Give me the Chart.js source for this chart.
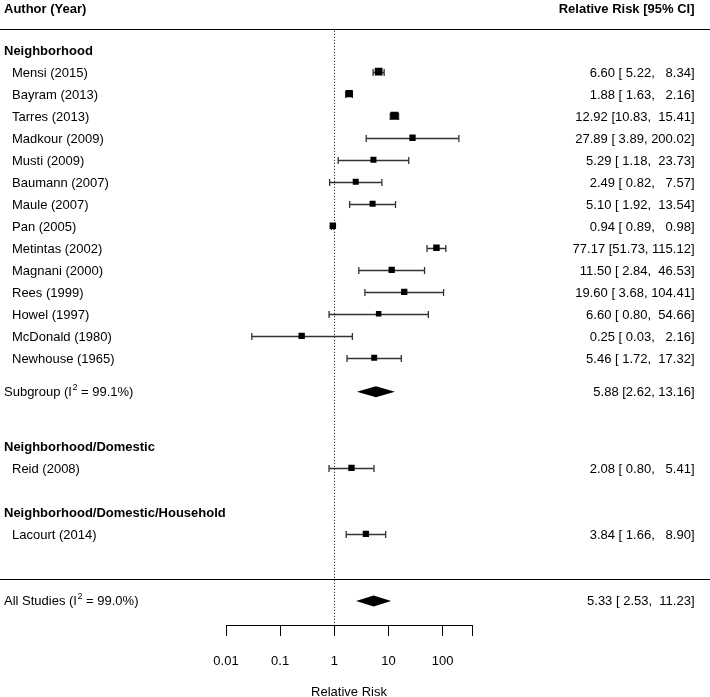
<!DOCTYPE html>
<html>
<head>
<meta charset="utf-8">
<title>Forest plot - Relative Risk</title>
<script src="https://cdn.jsdelivr.net/npm/chart.js@4.4.1/dist/chart.umd.min.js"></script>
<style>
  html, body { margin: 0; padding: 0; background: #fff; }
  canvas { display: block; }
</style>
</head>
<body>
<canvas id="forest" width="710" height="697"></canvas>
<script>
// study level data
const studyNames = [
  'Mensi (2015)', 'Bayram (2013)', 'Tarres (2013)', 'Madkour (2009)', 'Musti (2009)',
  'Baumann (2007)', 'Maule (2007)', 'Pan (2005)', 'Metintas (2002)', 'Magnani (2000)',
  'Rees (1999)', 'Howel (1997)', 'McDonald (1980)', 'Newhouse (1965)',
  'Reid (2008)', 'Lacourt (2014)'
];
const estimates = [6.60, 1.88, 12.92, 27.89, 5.29, 2.49, 5.10, 0.94, 77.17, 11.50, 19.60, 6.60, 0.25, 5.46, 2.08, 3.84];
const lower = [5.22, 1.63, 10.83, 3.89, 1.18, 0.82, 1.92, 0.89, 51.73, 2.84, 3.68, 0.80, 0.03, 1.72, 0.80, 1.66];
const upper = [8.34, 2.16, 15.41, 200.02, 23.73, 7.57, 13.54, 0.98, 115.12, 46.53, 104.41, 54.66, 2.16, 17.32, 5.41, 8.90];
const studyRows = [1, 2, 3, 4, 5, 6, 7, 8, 9, 10, 11, 12, 13, 14, 19, 22];

// subgroup headings
const groupNames = ['Neighborhood', 'Neighborhood/Domestic', 'Neighborhood/Domestic/Household'];
const groupRows = [0, 18, 21];

// pooled estimates
const summaryNames = ['Subgroup (I² = 99.1%)', 'All Studies (I² = 99.0%)'];
const summaryEst = [5.88, 5.33];
const summaryLower = [2.62, 2.53];
const summaryUpper = [13.16, 11.23];
const summaryRows = [15.5, 25];
const summaryPadded = [false, true];

// x axis
const tickValues = [0.01, 0.1, 1, 10, 100, 350];
const tickLabels = ['0.01', '0.1', '1', '10', '100', ''];

const FONT = '"Liberation Sans", Arial, Helvetica, sans-serif';
const headerRow = -1.9;
const topLineRow = -0.95;
const bottomLineRow = 24.05;
const textShift = 2; // canvas 'middle' sits a bit high for this font

// square side (px) per study
const boxSide = [7.7, 7.3, 8, 6.3, 6, 6, 6, 6.5, 6.5, 6.3, 6.3, 5.5, 6.3, 6, 6.3, 6.3];

function fmt(v, w) {
  return v.toFixed(2).padStart(w, ' ');
}
function ciText(est, lo, hi, padded) {
  if (!padded) return est.toFixed(2) + ' [' + lo.toFixed(2) + ', ' + hi.toFixed(2) + ']';
  return fmt(est, 5) + ' [' + fmt(lo, 5) + ', ' + fmt(hi, 6) + ']';
}

// draws text with a raised "2" where the label contains ²
function drawLabel(ctx, text, x, y, bold) {
  const base = (bold ? 'bold ' : '') + '13px ' + FONT;
  ctx.font = base;
  const idx = text.indexOf('²');
  if (idx < 0) { ctx.fillText(text, x, y); return; }
  const a = text.slice(0, idx), b = text.slice(idx + 1);
  ctx.fillText(a, x, y);
  let cx = x + ctx.measureText(a).width;
  ctx.font = '9px ' + FONT;
  ctx.fillText('2', cx + 0.5, y - 5);
  cx += ctx.measureText('2').width + 0.5;
  ctx.font = base;
  ctx.fillText(b, cx, y);
}

const forestPlugin = {
  id: 'forest',
  beforeDatasetsDraw(chart) {
    const { ctx, scales: { x, y } } = chart;
    ctx.save();

    // dotted reference line at RR = 1
    const x1 = Math.round(x.getPixelForValue(1)) + 0.5;
    ctx.strokeStyle = '#000';
    ctx.lineWidth = 1;
    ctx.setLineDash([1, 2]);
    ctx.beginPath();
    ctx.moveTo(x1, y.getPixelForValue(topLineRow) + 2);
    ctx.lineTo(x1, y.bottom);
    ctx.stroke();
    ctx.setLineDash([]);

    // confidence intervals
    ctx.strokeStyle = '#333';
    ctx.lineWidth = 1.3;
    studyRows.forEach((row, i) => {
      const py = Math.round(y.getPixelForValue(row)) + 0.5;
      const xl = x.getPixelForValue(lower[i]);
      const xh = x.getPixelForValue(upper[i]);
      ctx.beginPath();
      ctx.moveTo(xl, py); ctx.lineTo(xh, py);
      ctx.moveTo(xl, py - 3.5); ctx.lineTo(xl, py + 3.5);
      ctx.moveTo(xh, py - 3.5); ctx.lineTo(xh, py + 3.5);
      ctx.stroke();
    });

    // pooled diamonds
    ctx.fillStyle = '#000';
    summaryRows.forEach((row, i) => {
      const py = y.getPixelForValue(row) + 1;
      const xe = x.getPixelForValue(summaryEst[i]);
      ctx.beginPath();
      ctx.moveTo(x.getPixelForValue(summaryLower[i]), py);
      ctx.lineTo(xe, py - 5.5);
      ctx.lineTo(x.getPixelForValue(summaryUpper[i]), py);
      ctx.lineTo(xe, py + 5.5);
      ctx.closePath();
      ctx.fill();
    });
    ctx.restore();
  },
  afterDraw(chart) {
    const { ctx, width, scales: { y } } = chart;
    ctx.save();

    // separator lines
    ctx.strokeStyle = '#000';
    ctx.lineWidth = 1.2;
    [topLineRow, bottomLineRow].forEach(row => {
      const py = Math.round(y.getPixelForValue(row)) + 0.5;
      ctx.beginPath();
      ctx.moveTo(0, py);
      ctx.lineTo(width, py);
      ctx.stroke();
    });

    ctx.fillStyle = '#000';
    ctx.textBaseline = 'middle';
    const rightX = 694.5;
    const ty = row => y.getPixelForValue(row) + textShift;

    // headers
    ctx.textAlign = 'left';
    drawLabel(ctx, 'Author (Year)', 4, ty(headerRow), true);
    ctx.textAlign = 'right';
    ctx.font = 'bold 13px ' + FONT;
    ctx.fillText('Relative Risk [95% CI]', rightX, ty(headerRow));

    // group headings
    ctx.textAlign = 'left';
    groupRows.forEach((row, i) => drawLabel(ctx, groupNames[i], 4, ty(row), true));

    // studies
    studyRows.forEach((row, i) => {
      ctx.textAlign = 'left';
      drawLabel(ctx, studyNames[i], 12, ty(row), false);
      ctx.textAlign = 'right';
      ctx.font = '13px ' + FONT;
      ctx.fillText(ciText(estimates[i], lower[i], upper[i], true), rightX, ty(row));
    });

    // pooled rows
    summaryRows.forEach((row, i) => {
      ctx.textAlign = 'left';
      drawLabel(ctx, summaryNames[i], 4, ty(row), false);
      ctx.textAlign = 'right';
      ctx.font = '13px ' + FONT;
      ctx.fillText(ciText(summaryEst[i], summaryLower[i], summaryUpper[i], summaryPadded[i]), rightX, ty(row));
    });
    ctx.restore();
  }
};

const chart = new Chart(document.getElementById('forest').getContext('2d'), {
  type: 'scatter',
  data: {
    datasets: [{
      label: 'Relative Risk',
      data: studyRows.map((row, i) => ({ x: estimates[i], y: row })),
      pointStyle: 'rect',
      pointRadius: boxSide.map(s => s / (2 * Math.SQRT1_2)),
      pointHoverRadius: boxSide.map(s => s / (2 * Math.SQRT1_2)),
      backgroundColor: '#000',
      borderWidth: 0
    }]
  },
  options: {
    responsive: false,
    animation: false,
    devicePixelRatio: 1,
    layout: { padding: { left: 226, right: 238, top: 27.7, bottom: 0 } },
    plugins: { legend: { display: false }, tooltip: { enabled: false } },
    scales: {
      x: {
        type: 'logarithmic',
        position: 'bottom',
        min: tickValues[0],
        max: tickValues[tickValues.length - 1],
        afterBuildTicks: (scale) => {
          scale.ticks = tickValues.map(v => ({ value: v }));
        },
        afterFit: (scale) => { scale.height = 72; },
        grid: { drawOnChartArea: false, drawTicks: true, tickLength: 11, color: '#000', lineWidth: 1 },
        border: { display: true, color: '#000', width: 1 },
        ticks: {
          autoSkip: false,
          maxRotation: 0,
          padding: 18,
          color: '#000',
          font: { family: FONT, size: 13 },
          callback: (value, index) => tickLabels[index]
        },
        title: {
          display: true,
          text: 'Relative Risk',
          color: '#000',
          font: { family: FONT, size: 13, lineHeight: 0.7 },
          padding: { top: 0, bottom: 0 }
        }
      },
      y: {
        type: 'linear',
        display: false,
        reverse: true,
        min: -1,
        max: 26.14
      }
    }
  },
  plugins: [forestPlugin]
});
</script>
</body>
</html>
